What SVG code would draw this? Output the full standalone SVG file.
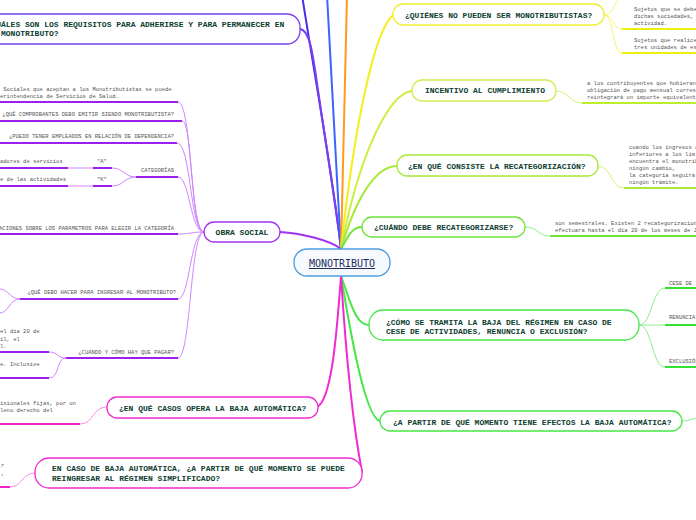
<svg xmlns="http://www.w3.org/2000/svg" width="696" height="520" viewBox="0 0 696 520">
<style>
.t{font-family:"Liberation Mono","Courier New",monospace;font-weight:bold;font-size:8px;fill:#0d4030}
.s{font-family:"Liberation Mono","Courier New",monospace;font-size:5.5px;fill:#555}
.e{text-anchor:end}
.n{fill:#fff;stroke-width:1.3}
.u{fill:none;stroke-width:2}
.c{fill:none;stroke-width:1}
.b{fill:none;stroke-width:2;stroke-linecap:round}
.pu{stroke:#9a1ff0}.pc{stroke:#cf85ff}
.mg{stroke:#ee22cc}.mc{stroke:#ff8ae8}
.ye{stroke:#eeee10}.yc{stroke:#f6f670}
.li{stroke:#bbee30}.lc{stroke:#d4f47a}
.gr{stroke:#33e033}.gc{stroke:#88f088}
</style>
<rect width="696" height="520" fill="#fff"/>
<g id="connectors">
  <path class="b" stroke="#4a2ee6" d="M341,249 C332,170 312,60 302,-5"/>
  <path class="b" stroke="#7a3ff0" d="M300,29 C310,30 313,55 318,90 S338,220 341,249"/>
  <path class="b" stroke="#3a66ff" d="M341,249 C336,160 330,60 327,-5"/>
  <path class="b" stroke="#ff9a1a" d="M341,249 C343,160 346,60 347,-5"/>
  <path class="b" stroke="#f5ee18" d="M341,249 C355,120 375,30 393,15"/>
  <path class="b" stroke="#ccee40" d="M341,249 C360,150 390,93 412,91"/>
  <path class="b" stroke="#a8e838" d="M341,249 C355,200 375,166 397,166"/>
  <path class="b" stroke="#6ee438" d="M341,249 C348,236 352,227 362,227"/>
  <path class="b" stroke="#a033f0" d="M280,232 C300,233 330,240 341,249"/>
  <path class="b" stroke="#44e844" d="M341,276 C350,300 355,325 369,325"/>
  <path class="b" stroke="#44e844" d="M341,276 C350,330 365,418 380,421"/>
  <path class="b" stroke="#f02ad2" d="M341,276 C337,330 332,400 317,407"/>
  <path class="b" stroke="#f02ad2" d="M341,276 C345,340 352,420 362,472"/>
  <!-- obra social children -->
  <path class="c pc" d="M178,102 C192,102 190,232 204,232"/>
  <path class="c pc" d="M182,121 C193,121 190,232 204,232"/>
  <path class="c pc" d="M177,143 C191,143 190,232 204,232"/>
  <path class="c pc" d="M178,177 C190,177 190,232 204,232"/>
  <path class="c pc" d="M178,234 C190,234 192,232 204,232"/>
  <path class="c pc" d="M178,299 C190,299 190,232 204,232"/>
  <path class="c pc" d="M178,358 C191,358 190,232 204,232"/>
  <path class="c pc" d="M112,168 C124,168 124,177 136,177"/>
  <path class="c pc" d="M112,186 C124,186 124,177 136,177"/>
  <path class="c pc" d="M68,168 L93,168"/>
  <path class="c pc" d="M68,186 L93,186"/>
  <path class="c pc" d="M20,299 C10,299 8,289 0,289"/>
  <path class="c pc" d="M20,299 C10,299 8,313 0,313"/>
  <path class="c pc" d="M49,352 C58,352 57,358 66,358"/>
  <path class="c pc" d="M49,378 C60,378 56,358 66,358"/>
  <!-- magenta children -->
  <path class="c mc" d="M80,424 C94,424 92,407 107,407"/>
  <path class="c mc" d="M10,487 C22,487 22,473 35,473"/>
  <!-- right side children -->
  <path class="c yc" d="M604,15 C614,15 612,29 622,29"/>
  <path class="c yc" d="M604,15 C614,15 612,53 622,53"/>
  <path class="c yc" d="M604,15 C614,15 613,2 622,-4"/>
  <path class="c lc" d="M556,91 C568,91 570,103 582,103"/>
  <path class="c lc" d="M598,166 C612,166 610,188 624,188"/>
  <path class="c gc" d="M525,227 C538,227 538,236 550,236"/>
  <path class="c gc" d="M639,325 C652,325 652,288 665,288"/>
  <path class="c gc" d="M639,325 C652,325 652,325 665,325"/>
  <path class="c gc" d="M639,325 C652,325 652,367 665,367"/>
  <path class="c gc" d="M682,421 C690,421 692,418 700,418"/>
</g>
<g id="monotributo">
  <rect x="294" y="249" width="96" height="27" rx="13" fill="#f6faff" stroke="#4d9de0" stroke-width="1.3"/>
  <text x="342" y="267" text-anchor="middle" font-family="'DejaVu Sans Mono',monospace" font-size="10" fill="#1f2d5c" text-decoration="underline">MONOTRIBUTO</text>
</g>
<g id="requisitos">
  <rect class="n" x="-20" y="14" width="320" height="30" rx="13" stroke="#7a3ff0"/>
  <text class="t" x="-13.4" y="27">¿CUÁLES SON LOS REQUISITOS PARA ADHERIRSE Y PARA PERMANECER EN</text>
  <text class="t" x="1" y="36">MONOTRIBUTO?</text>
</g>
<g id="obra-social">
  <rect class="n" x="204" y="222" width="76" height="20" rx="10" stroke="#a033f0"/>
  <text class="t" x="242" y="235" text-anchor="middle">OBRA SOCIAL</text>
</g>
<g id="os-obras">
  <text class="s" x="3.3" y="91">Sociales que aceptan a los Monotributistas se puede</text>
  <text class="s" x="0" y="98">erintendencia de Servicios de Salud.</text>
  <line class="u pu" x1="0" y1="102" x2="178" y2="102"/>
</g>
<g id="os-comprobantes">
  <text class="s e" x="174" y="116">¿QUÉ COMPROBANTES DEBO EMITIR SIENDO MONOTRIBUTISTA?</text>
  <line class="u pu" x1="0" y1="121" x2="182" y2="121"/>
</g>
<g id="os-empleados">
  <text class="s e" x="174" y="138">¿PUEDO TENER EMPLEADOS EN RELACIÓN DE DEPENDENCIA?</text>
  <line class="u pu" x1="0" y1="143" x2="177" y2="143"/>
</g>
<g id="os-categorias">
  <text class="s e" x="174" y="172">CATEGORÍAS</text>
  <line class="u pu" x1="136" y1="177" x2="178" y2="177"/>
</g>
<g id="cat-a">
  <text class="s" x="97" y="163">"A"</text>
  <line class="u pu" x1="93" y1="168" x2="112" y2="168"/>
</g>
<g id="cat-a-txt">
  <text class="s" x="0" y="163">adores de servicios</text>
  <line class="u pu" x1="0" y1="168" x2="68" y2="168"/>
</g>
<g id="cat-k">
  <text class="s" x="97" y="181">"K"</text>
  <line class="u pu" x1="93" y1="186" x2="112" y2="186"/>
</g>
<g id="cat-k-txt">
  <text class="s" x="0" y="181">e de las actividades</text>
  <line class="u pu" x1="0" y1="186" x2="68" y2="186"/>
</g>
<g id="os-parametros">
  <text class="s e" x="174" y="230">ACIONES SOBRE LOS PARÁMETROS PARA ELEGIR LA CATEGORÍA</text>
  <line class="u pu" x1="0" y1="234" x2="178" y2="234"/>
</g>
<g id="os-ingresar">
  <text class="s e" x="176" y="294">¿QUÉ DEBO HACER PARA INGRESAR AL MONOTRIBUTO?</text>
  <line class="u pu" x1="20" y1="299" x2="178" y2="299"/>
</g>
<g id="os-pagar">
  <text class="s e" x="174" y="354">¿CUÁNDO Y CÓMO HAY QUE PAGAR?</text>
  <line class="u pu" x1="66" y1="358" x2="178" y2="358"/>
</g>
<g id="pagar-1">
  <text class="s" x="0" y="333">el día 20 de</text>
  <text class="s" x="0" y="341">il, el</text>
  <text class="s" x="0" y="348">l.</text>
  <line class="u pu" x1="0" y1="352" x2="49" y2="352"/>
</g>
<g id="pagar-2">
  <text class="s" x="0" y="366">e. Inclusive</text>
  <line class="u pu" x1="0" y1="378" x2="49" y2="378"/>
</g>
<g id="baja-automatica">
  <rect class="n" x="107" y="397" width="211" height="21" rx="10" stroke="#f02ad2"/>
  <text class="t" x="119" y="410.5">¿EN QUÉ CASOS OPERA LA BAJA AUTOMÁTICA?</text>
</g>
<g id="baja-auto-txt">
  <text class="s" x="0" y="405">isionales fijas, por un</text>
  <text class="s" x="0" y="412">leno derecho del</text>
  <line class="u mg" x1="0" y1="424" x2="80" y2="424"/>
</g>
<g id="reingreso">
  <rect class="n" x="35" y="458" width="327" height="30" rx="14" stroke="#f02ad2"/>
  <text class="t" x="52" y="471">EN CASO DE BAJA AUTOMÁTICA, ¿A PARTIR DE QUÉ MOMENTO SE PUEDE</text>
  <text class="t" x="52" y="481">REINGRESAR AL RÉGIMEN SIMPLIFICADO?</text>
</g>
<g id="reingreso-txt">
  <text class="s" x="1" y="467">r</text>
  <text class="s" x="1" y="475">,</text>
  <line class="u mg" x1="0" y1="487" x2="10" y2="487"/>
</g>
<g id="quienes">
  <rect class="n" x="393" y="4" width="211" height="21" rx="10" stroke="#eeee30"/>
  <text class="t" x="405" y="17.5">¿QUIÉNES NO PUEDEN SER MONOTRIBUTISTAS?</text>
</g>
<g id="quienes-1">
  <text class="s" x="634" y="11">Sujetos que se deben</text>
  <text class="s" x="634" y="18">dichas sociedades,</text>
  <text class="s" x="634" y="25">actividad.</text>
  <line class="u ye" x1="622" y1="29" x2="696" y2="29"/>
</g>
<g id="quienes-2">
  <text class="s" x="634" y="42">Sujetos que realice</text>
  <text class="s" x="634" y="49">tres unidades de es</text>
  <line class="u ye" x1="622" y1="53" x2="696" y2="53"/>
</g>
<g id="incentivo">
  <rect class="n" x="412" y="80" width="144" height="21" rx="10" stroke="#ccee50"/>
  <text class="t" x="425" y="93">INCENTIVO AL CUMPLIMIENTO</text>
</g>
<g id="incentivo-txt">
  <text class="s" x="587" y="85">a los contribuyentes que hubieran</text>
  <text class="s" x="587" y="92">obligación de pago mensual corresp</text>
  <text class="s" x="587" y="99">reintegrará un importe equivalente</text>
  <line class="u li" x1="582" y1="103" x2="696" y2="103"/>
</g>
<g id="recategorizacion">
  <rect class="n" x="397" y="155" width="201" height="21" rx="10" stroke="#a8e838"/>
  <text class="t" x="408" y="168.5">¿EN QUÉ CONSISTE LA RECATEGORIZACIÓN?</text>
</g>
<g id="recat-txt">
  <text class="s" x="629" y="149">cuando los ingresos a</text>
  <text class="s" x="629" y="156">inferiores a los lím</text>
  <text class="s" x="629" y="163">encuentra el monotrib</text>
  <text class="s" x="629" y="170">ningún cambio,</text>
  <text class="s" x="629" y="177">la categoría seguirá</text>
  <text class="s" x="629" y="184">ningún trámite.</text>
  <line class="u" stroke="#a8e838" x1="624" y1="188" x2="696" y2="188"/>
</g>
<g id="cuando-recat">
  <rect class="n" x="362" y="217" width="163" height="20" rx="10" stroke="#6ee438"/>
  <text class="t" x="374" y="229.5">¿CUÁNDO DEBE RECATEGORIZARSE?</text>
</g>
<g id="cuando-recat-txt">
  <text class="s" x="555" y="225">son semestrales. Existen 2 recategorizacion</text>
  <text class="s" x="555" y="232">efectuara hasta el día 20 de los meses de J</text>
  <line class="u" stroke="#6ee438" x1="550" y1="236" x2="696" y2="236"/>
</g>
<g id="tramite-baja">
  <rect class="n" x="369" y="310" width="270" height="30" rx="14" stroke="#44e844"/>
  <text class="t" x="386" y="324.5">¿CÓMO SE TRAMITA LA BAJA DEL RÉGIMEN EN CASO DE</text>
  <text class="t" x="386" y="333.5">CESE DE ACTIVIDADES, RENUNCIA O EXCLUSIÓN?</text>
</g>
<g id="cese">
  <text class="s" x="669" y="285">CESE DE</text>
  <line class="u gr" x1="665" y1="288" x2="696" y2="288"/>
</g>
<g id="renuncia">
  <text class="s" x="669" y="319">RENUNCIA</text>
  <line class="u gr" x1="665" y1="325" x2="696" y2="325"/>
</g>
<g id="exclusion">
  <text class="s" x="669" y="363" fill="#222">EXCLUSIÓN</text>
  <line class="u gr" x1="665" y1="367" x2="696" y2="367"/>
</g>
<g id="efectos-baja">
  <rect class="n" x="380" y="411" width="302" height="20" rx="10" stroke="#44e844"/>
  <text class="t" x="393" y="424.5">¿A PARTIR DE QUÉ MOMENTO TIENE EFECTOS LA BAJA AUTOMÁTICA?</text>
</g>
</svg>
